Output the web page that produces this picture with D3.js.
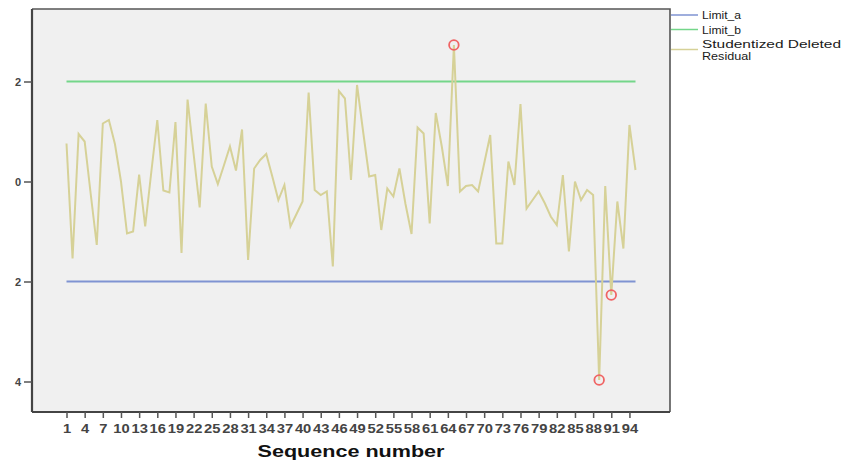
<!DOCTYPE html>
<html>
<head>
<meta charset="utf-8">
<script src="https://cdn.jsdelivr.net/npm/d3@7"></script>
<style>
  html, body { margin: 0; padding: 0; background: #ffffff; }
  svg { display: block; font-family: Arial, "Liberation Sans", sans-serif; }
</style>
</head>
<body>
<svg id="chart" width="842" height="461"></svg>
<script>
// ---- data ----
const sequence = d3.range(1, 96);
const residuals = [
  0.76, -1.54, 0.95, 0.80, -0.25, -1.27, 1.16, 1.23, 0.75, 0.00,
  -1.04, -1.00, 0.14, -0.90, 0.18, 1.23, -0.18, -0.22, 1.19, -1.43,
  1.64, 0.55, -0.52, 1.56, 0.30, -0.05, 0.32, 0.70, 0.22, 1.04,
  -1.57, 0.26, 0.43, 0.55, 0.10, -0.37, -0.07, -0.90, -0.65, -0.40,
  1.78, -0.17, -0.27, -0.20, -1.70, 1.81, 1.66, 0.03, 1.93, 1.00,
  0.10, 0.13, -0.97, -0.14, -0.30, 0.26, -0.45, -1.05, 1.08, 0.96,
  -0.84, 1.37, 0.70, -0.09, 2.73, -0.20, -0.09, -0.07, -0.20, 0.36,
  0.93, -1.24, -1.24, 0.40, -0.07, 1.55, -0.54, -0.37, -0.20, -0.43,
  -0.70, -0.87, 0.13, -1.40, 0.00, -0.37, -0.17, -0.27, -3.97, -0.09,
  -2.27, -0.40, -1.34, 1.13, 0.23
];
const limitA = -2;
const limitB = 2;
const outliers = [65, 89, 91];
const xTickValues = d3.range(1, 96, 3);
const yTickValues = [2, 0, -2, -4];
const yTickLabels = ["2", "0", "2", "4"];
const legendLabels = ["Limit_a", "Limit_b", ["Studentized Deleted", "Residual"]];
const xTitle = "Sequence number";

// ---- layout ----
const svg = d3.select("#chart");
const plot = { left: 32, right: 670, top: 9, bottom: 412 };
const colors = { a: "#7f93d2", b: "#74d68a", res: "#d6d197", out: "#f06464" };

const x = d3.scalePoint().domain(sequence).range([plot.left, plot.right]).padding(5.7);
const y = d3.scaleLinear().domain([-4.61, 3.45]).range([plot.bottom, plot.top]);

// background
svg.append("rect")
  .attr("x", plot.left).attr("y", plot.top)
  .attr("width", plot.right - plot.left).attr("height", plot.bottom - plot.top)
  .attr("fill", "#f0f0f0");

// limit lines
const limitLine = v => d3.line().x(d => x(d)).y(() => y(v));
svg.append("path").datum(sequence).attr("d", limitLine(limitA))
  .attr("fill", "none").attr("stroke", colors.a).attr("stroke-width", 2.2);
svg.append("path").datum(sequence).attr("d", limitLine(limitB))
  .attr("fill", "none").attr("stroke", colors.b).attr("stroke-width", 2.2);

// residual line
const line = d3.line().x((d, i) => x(sequence[i])).y(d => y(d));
svg.append("path").datum(residuals).attr("d", line)
  .attr("fill", "none").attr("stroke", colors.res).attr("stroke-width", 2)
  .attr("stroke-linejoin", "miter");

// outlier markers
svg.selectAll("circle.out").data(outliers).enter().append("circle")
  .attr("class", "out")
  .attr("cx", d => x(d)).attr("cy", d => y(residuals[d - 1]))
  .attr("r", 4.8)
  .attr("fill", "none").attr("stroke", colors.out).attr("stroke-width", 1.8);

// frame (top/right)
svg.append("path")
  .attr("d", `M${plot.left},${plot.top}H${plot.right}V${plot.bottom}`)
  .attr("fill", "none").attr("stroke", "#555").attr("stroke-width", 1.6);

// y axis
const yAxis = d3.axisLeft(y).tickValues(yTickValues)
  .tickFormat((d, i) => yTickLabels[i]).tickSize(8).tickPadding(3);
const gy = svg.append("g").attr("transform", `translate(${plot.left},0)`).call(yAxis);
gy.select(".domain").attr("stroke", "#444").attr("stroke-width", 2.2)
  .attr("d", `M0,${plot.top}V${plot.bottom}`);
gy.selectAll(".tick line").attr("stroke", "#555").attr("stroke-width", 1.5);
gy.selectAll(".tick text").attr("fill", "#444").style("font-size", "11px").style("font-weight", "bold");

// x axis
const xAxis = d3.axisBottom(x).tickValues(xTickValues).tickSize(6).tickPadding(6);
const gx = svg.append("g").attr("transform", `translate(0,${plot.bottom})`).call(xAxis);
gx.select(".domain").attr("stroke", "#444").attr("stroke-width", 2.2)
  .attr("d", `M${plot.left},0H${plot.right}`);
gx.selectAll(".tick line").attr("stroke", "#555").attr("stroke-width", 1.5);
gx.selectAll(".tick text").attr("fill", "#444")
  .style("font-size", "12px").style("font-weight", "bold")
  .attr("textLength", d => String(d).length * 8.2)
  .attr("lengthAdjust", "spacingAndGlyphs");

// x title
svg.append("text")
  .attr("x", 351).attr("y", 457)
  .attr("text-anchor", "middle")
  .attr("textLength", 187).attr("lengthAdjust", "spacingAndGlyphs")
  .style("font-size", "17px").style("font-weight", "bold").attr("fill", "#111")
  .text(xTitle);

// legend
const legend = svg.append("g");
const legendRows = [
  { color: colors.a, y: 15, label: legendLabels[0] },
  { color: colors.b, y: 29.5, label: legendLabels[1] },
  { color: colors.res, y: 49.5, label: legendLabels[2] }
];
legendRows.forEach(r => {
  legend.append("line")
    .attr("x1", 671).attr("x2", 698).attr("y1", r.y).attr("y2", r.y)
    .attr("stroke", r.color).attr("stroke-width", 1.5);
});
const legendText = (txt, ty, len) => legend.append("text")
  .attr("x", 702).attr("y", ty).attr("fill", "#1a1a1a")
  .style("font-size", "11px").attr("textLength", len).attr("lengthAdjust", "spacingAndGlyphs")
  .text(txt);
legendText(legendLabels[0], 19, 39);
legendText(legendLabels[1], 33.5, 39);
legendText(legendLabels[2][0], 48, 139);
legendText(legendLabels[2][1], 60, 49);
</script>
</body>
</html>
